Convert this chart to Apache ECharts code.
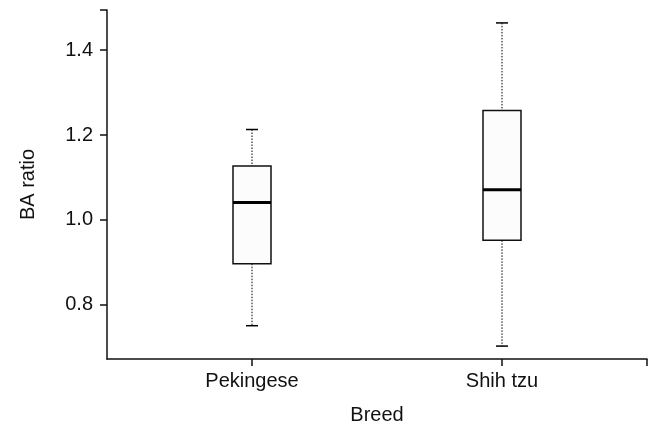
<!DOCTYPE html>
<html>
<head>
<meta charset="utf-8">
<script src="https://cdn.jsdelivr.net/npm/echarts@6/dist/echarts.min.js"></script>
<style>
html,body{margin:0;padding:0;background:#fff;}
#chart{width:653px;height:430px;}
</style>
</head>
<body>
<div id="chart"></div>
<script>
// Data
var categories = ['Pekingese', 'Shih tzu'];
var positions = [1, 2];
var mins = [0.751, 0.703];
var q1s = [0.897, 0.952];
var medians = [1.041, 1.071];
var q3s = [1.127, 1.258];
var maxs = [1.213, 1.464];
var yTickValues = [0.8, 1.0, 1.2, 1.4];

var seriesData = positions.map(function (p, i) {
  return [p, mins[i], q1s[i], medians[i], q3s[i], maxs[i]];
});

var BOX_W = 0.152;   // box width in x-axis units
var CAP_W = 0.048;   // whisker cap width in x-axis units
var FONT = 'Liberation Sans, Arial, sans-serif';

function renderItem(params, api) {
  var x = api.value(0);
  var pMin = api.coord([x, api.value(1)]);
  var pQ1 = api.coord([x, api.value(2)]);
  var pMed = api.coord([x, api.value(3)]);
  var pQ3 = api.coord([x, api.value(4)]);
  var pMax = api.coord([x, api.value(5)]);
  var halfBox = api.size([BOX_W, 0])[0] / 2;
  var halfCap = api.size([CAP_W, 0])[0] / 2;
  var cx = pMed[0];
  var dotted = { stroke: '#000', lineWidth: 1, lineDash: [1.5, 1.5] };
  var solid = { stroke: '#000', lineWidth: 1.5 };
  return {
    type: 'group',
    children: [
      { type: 'line', shape: { x1: cx, y1: pMax[1], x2: cx, y2: pQ3[1] }, style: dotted },
      { type: 'line', shape: { x1: cx, y1: pQ1[1], x2: cx, y2: pMin[1] }, style: dotted },
      { type: 'line', shape: { x1: cx - halfCap, y1: pMax[1], x2: cx + halfCap, y2: pMax[1] }, style: solid },
      { type: 'line', shape: { x1: cx - halfCap, y1: pMin[1], x2: cx + halfCap, y2: pMin[1] }, style: solid },
      { type: 'rect', shape: { x: cx - halfBox, y: pQ3[1], width: halfBox * 2, height: pQ1[1] - pQ3[1] },
        style: { fill: '#fcfcfc', stroke: '#111', lineWidth: 1.5 } },
      { type: 'line', shape: { x1: cx - halfBox, y1: pMed[1], x2: cx + halfBox, y2: pMed[1] },
        style: { stroke: '#000', lineWidth: 3 } }
    ]
  };
}

var chart = echarts.init(document.getElementById('chart'), null, { renderer: 'canvas' });
chart.setOption({
  animation: false,
  backgroundColor: '#fff',
  grid: { left: 107, right: 6, top: 10, bottom: 68, containLabel: false },
  xAxis: {
    type: 'value',
    min: 0.42,
    max: 2.58,
    name: 'Breed',
    nameLocation: 'middle',
    nameGap: 46,
    nameTextStyle: { fontFamily: FONT, fontSize: 20, color: '#111' },
    axisLine: { show: true, lineStyle: { color: '#111', width: 1.5 } },
    axisTick: { show: true, length: 7, customValues: [1, 2, 2.579], lineStyle: { color: '#111', width: 1.5 } },
    axisLabel: {
      customValues: positions,
      margin: 12,
      fontFamily: FONT, fontSize: 20, color: '#111',
      formatter: function (v) {
        var i = positions.indexOf(v);
        return i >= 0 ? categories[i] : '';
      }
    },
    splitLine: { show: false }
  },
  yAxis: {
    type: 'value',
    min: 0.6726,
    max: 1.4944,
    name: 'BA ratio',
    nameLocation: 'middle',
    nameGap: 69,
    nameTextStyle: { fontFamily: FONT, fontSize: 20, color: '#111' },
    axisLine: { show: true, lineStyle: { color: '#111', width: 1.5 } },
    axisTick: { show: true, length: 7, customValues: yTickValues.concat([1.4943]), lineStyle: { color: '#111', width: 1.5 } },
    axisLabel: {
      customValues: yTickValues,
      margin: 14,
      fontFamily: FONT, fontSize: 20, color: '#111',
      formatter: function (v) { return v.toFixed(1); }
    },
    splitLine: { show: false }
  },
  series: [{
    type: 'custom',
    renderItem: renderItem,
    encode: { x: 0, y: [1, 2, 3, 4, 5] },
    data: seriesData,
    clip: false
  }]
});
</script>
</body>
</html>
